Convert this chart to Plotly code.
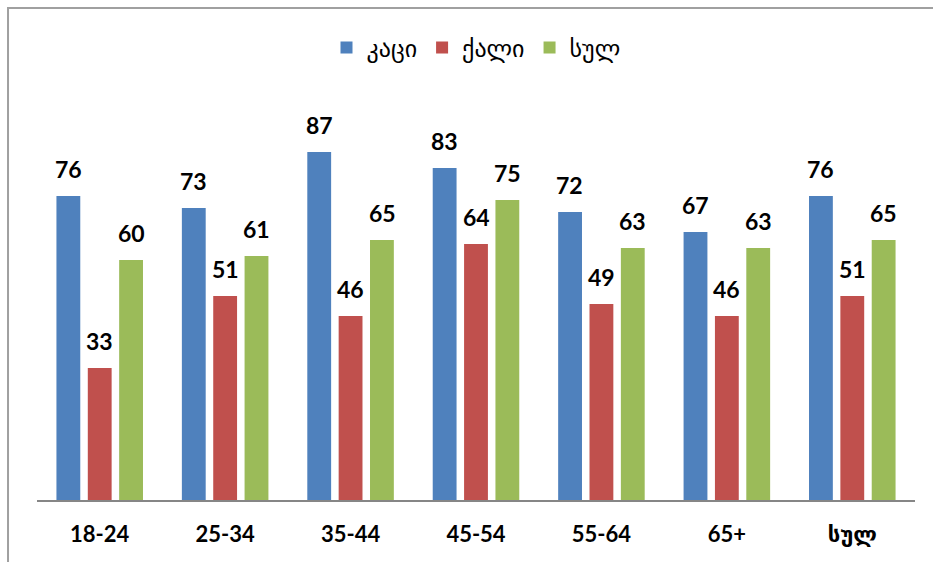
import plotly.graph_objects as go

categories = ["18-24", "25-34", "35-44", "45-54", "55-64", "65+", "სულ"]
series_names = ["კაცი", "ქალი", "სულ"]
men = [76, 73, 87, 83, 72, 67, 76]
women = [33, 51, 46, 64, 49, 46, 51]
total = [60, 61, 65, 75, 63, 63, 65]
colors = ["#4F81BD", "#C0504D", "#9BBB59"]

series_values = [men, women, total]
label_font = dict(family="Lato, DejaVu Sans, sans-serif", size=23, color="#000000", weight="bold")
geo_font = "DejaVu Sans, sans-serif"

fig = go.Figure()
for name, vals, col in zip(series_names, series_values, colors):
    fig.add_trace(go.Bar(x=categories, y=vals, name=name, marker=dict(color=col, line=dict(width=0))))

# value labels above each bar, shifted onto their bar within the group
shifts = [-31.5, 0, 31.5]
annotations = []
for vals, dx in zip(series_values, shifts):
    for cat, v in zip(categories, vals):
        annotations.append(dict(
            x=cat, y=v, xref="x", yref="y", text=str(v), showarrow=False,
            xshift=dx, yshift=27, font=label_font,
        ))

fig.update_layout(
    width=933, height=562,
    margin=dict(l=37, r=18, t=100, b=62),
    paper_bgcolor="white", plot_bgcolor="white",
    barmode="group", bargap=0.25, bargroupgap=0.24,
    annotations=annotations,
    legend=dict(orientation="h", x=0.5, xanchor="center", y=1.13, yanchor="middle",
                font=dict(family=geo_font, size=24, color="#000000"),
                itemwidth=30, tracegroupgap=0),
    xaxis=dict(showline=True, linecolor="#868686", linewidth=2, ticks="",
               ticklabelstandoff=14,
               tickfont=dict(family="Lato, DejaVu Sans, sans-serif", size=22, color="#000000", weight="bold"),
               showgrid=False),
    yaxis=dict(range=[0, 100], visible=False, showgrid=False),
    shapes=[dict(type="rect", xref="paper", yref="paper", x0=-0.033, x1=1.2, y0=-0.4, y1=1.23,
                 line=dict(color="#A0A0A0", width=2), layer="below")],
    showlegend=True,
)
fig.write_html("out.html")
